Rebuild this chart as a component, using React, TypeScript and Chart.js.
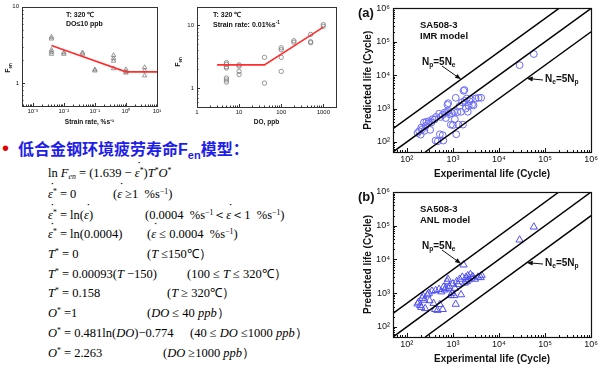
import React, { useEffect, useRef } from "react";
import { Chart, registerables } from "chart.js";
Chart.register(...registerables);

const SANS = '"Liberation Sans", Arial, Helvetica, sans-serif';
const SERIF = '"Liberation Serif", "Times New Roman", serif';

// ---------- Fen vs strain rate (T = 320 C, DO <= 10 ppb) ----------
const strainRate = [0.004, 0.004, 0.004, 0.004, 0.004, 0.01, 0.01, 0.04, 0.04, 0.1, 0.1, 0.4, 0.4, 0.4, 0.4, 1, 1, 1, 4, 4, 4];
const fenStrain = [4.0, 3.8, 2.7, 2.55, 2.4, 2.5, 2.4, 2.5, 2.4, 1.5, 1.45, 2.3, 2.1, 1.95, 1.55, 1.5, 1.4, 1.36, 1.6, 1.45, 1.25];
const strainModelX = [0.004, 1, 10];
const strainModelY = [3.1, 1.4, 1.4];
const strainMajors = [0.001, 0.01, 0.1, 1, 10];
const strainLabels = ["10\u207B\u00B3", "10\u207B\u00B2", "10\u207B\u00B9", "10\u2070", "10\u00B9"];

// ---------- Fen vs DO (T = 320 C, strain rate 0.01 %/s) ----------
const doLevel = [5, 5, 5, 5, 5, 5, 5, 10, 10, 10, 10, 40, 40, 100, 100, 100, 100, 200, 200, 500, 500, 500, 1000, 1000];
const fenDO = [2.55, 2.4, 2.2, 2.1, 1.45, 1.35, 1.25, 2.35, 2.25, 1.85, 1.65, 3.1, 1.2, 4.4, 4.1, 3.1, 1.85, 5.7, 5.4, 7.2, 5.5, 5.3, 10.3, 9.7];
const doModelX = [3, 40, 1000];
const doModelY = [2.35, 2.35, 9.4];
const doMajors = [1, 10, 100, 1000];
const doLabels = ["1", "10", "100", "1000"];

const fenMajors = [1, 10];
const fenLabels = ["1", "10"];

// ---------- Predicted vs experimental life ----------
const imrExp = [170, 185, 200, 205, 215, 235, 240, 255, 265, 290, 300, 320, 340, 360, 400, 420, 430, 470, 500, 520, 540, 600, 600, 620, 660, 700, 740, 760, 790, 800, 830, 900, 960, 1000, 1060, 1100, 1150, 1180, 1250, 1320, 1400, 1500, 1580, 1650, 1700, 1780, 1800, 1900, 2000, 2100, 2200, 2300, 2450, 2600, 2800, 3100, 3600, 4100, 28000, 57000];
const imrPred = [185, 210, 165, 270, 240, 385, 215, 300, 400, 360, 420, 230, 380, 480, 470, 110, 560, 105, 700, 170, 560, 650, 160, 110, 760, 520, 780, 1300, 1450, 850, 680, 330, 720, 320, 800, 480, 2100, 170, 780, 330, 1200, 800, 1550, 330, 3400, 3600, 1700, 1000, 2000, 800, 1200, 1650, 1900, 1300, 1250, 2000, 2100, 2100, 20000, 43000];

const anlExp = [170, 180, 195, 205, 215, 225, 240, 250, 280, 300, 310, 350, 380, 410, 420, 460, 500, 520, 560, 600, 620, 660, 700, 750, 780, 800, 830, 900, 950, 1000, 1060, 1100, 1150, 1200, 1300, 1400, 1500, 1600, 1700, 1800, 1900, 2000, 2100, 2200, 2400, 2500, 2700, 3000, 3500, 4000, 4200, 28000, 57000];
const anlPred = [480, 540, 430, 380, 700, 820, 620, 350, 900, 1000, 600, 1150, 500, 330, 1200, 310, 1300, 460, 1100, 330, 1500, 1250, 1400, 2200, 2600, 1350, 1600, 850, 1000, 1900, 850, 1400, 470, 2200, 1800, 2600, 900, 3000, 6900, 2000, 2900, 2200, 3300, 2500, 3600, 2800, 3100, 2600, 3000, 2900, 3400, 38000, 92000];

const lifeRange = [50, 1e6];
const lineEqualX = [50, 1e6];
const lineEqualY = [50, 1e6];
const lineUpperX = [50, 2e5];
const lineUpperY = [250, 1e6];
const lineLowerX = [250, 1e6];
const lineLowerY = [50, 2e5];
const lifeMajors = [100, 1000, 10000, 100000, 1000000];
const lifeLabels = ["10\u00B2", "10\u00B3", "10\u2074", "10\u2075", "10\u2076"];

// ---------- helpers ----------
type Seg = { t: string; sub?: boolean; sup?: boolean };
type TextItem = { x: number; y: number; segs: Seg[]; size: number; bold?: boolean; color?: string; rotate?: boolean };
type Arrow = { tx: number; ty: number; hx: number; hy: number };
type Deco = { frame: string; frameWidth: number; major: number; minor: number; tickColor: string; texts: TextItem[]; arrows: Arrow[] };

const isMajor = (v: number) => Math.abs(Math.log10(v) - Math.round(Math.log10(v))) < 1e-6;

function tickValues(min: number, max: number): number[] {
  const out: number[] = [];
  const lo = Math.floor(Math.log10(min));
  const hi = Math.ceil(Math.log10(max));
  for (let e = lo; e <= hi; e++) {
    for (let m = 1; m < 10; m++) {
      const v = m * Math.pow(10, e);
      if (v >= min * 0.999 && v <= max * 1.001) out.push(v);
    }
  }
  return out;
}

function labelFor(v: number, majors: number[], labels: string[]): string {
  for (let i = 0; i < majors.length; i++) {
    if (Math.abs(Math.log10(v) - Math.log10(majors[i])) < 1e-6) return labels[i];
  }
  return "";
}

function axis(o: {
  min: number; max: number; majors: number[]; labels: string[]; size: number; pad: number; fit: number; horiz: boolean;
  title?: string; titleSize?: number; titlePad?: any;
}): any {
  return {
    type: "logarithmic",
    min: o.min,
    max: o.max,
    afterBuildTicks: (s: any) => {
      s.ticks = tickValues(o.min, o.max).map((v) => ({ value: v }));
    },
    afterFit: (s: any) => {
      if (o.horiz) s.height = o.fit;
      else s.width = o.fit;
    },
    grid: { display: false, drawTicks: false },
    border: { display: false },
    ticks: {
      autoSkip: false,
      maxRotation: 0,
      minRotation: 0,
      padding: o.pad,
      color: "#111",
      font: { family: SANS, size: o.size },
      callback: (v: any) => labelFor(Number(v), o.majors, o.labels),
    },
    title: o.title
      ? { display: true, text: o.title, color: "#111", font: { family: SANS, size: o.titleSize, weight: "bold" }, padding: o.titlePad }
      : { display: false },
  };
}

function drawRich(ctx: CanvasRenderingContext2D, it: TextItem) {
  const w = it.bold ? "bold " : "";
  const fontOf = (s: Seg) => `${w}${s.sub || s.sup ? it.size * 0.66 : it.size}px ${SANS}`;
  let total = 0;
  for (const s of it.segs) {
    ctx.font = fontOf(s);
    total += ctx.measureText(s.t).width;
  }
  ctx.save();
  ctx.translate(it.x, it.y);
  if (it.rotate) ctx.rotate(-Math.PI / 2);
  let cx = it.rotate ? -total / 2 : 0;
  ctx.fillStyle = it.color || "#111";
  ctx.textBaseline = "middle";
  ctx.textAlign = "left";
  for (const s of it.segs) {
    ctx.font = fontOf(s);
    const dy = s.sub ? it.size * 0.32 : s.sup ? -it.size * 0.35 : 0;
    ctx.fillText(s.t, cx, dy);
    cx += ctx.measureText(s.t).width;
  }
  ctx.restore();
}

function deco(cfg: Deco): any {
  return {
    id: "deco",
    afterDraw(chart: any) {
      const { ctx, chartArea: a } = chart;
      const xs = chart.scales.x;
      const ys = chart.scales.y;
      ctx.save();
      ctx.strokeStyle = cfg.tickColor;
      ctx.lineWidth = 1;
      ctx.beginPath();
      for (const t of xs.ticks) {
        const px = Math.round(xs.getPixelForValue(t.value)) + 0.5;
        const len = isMajor(t.value) ? cfg.major : cfg.minor;
        ctx.moveTo(px, a.bottom);
        ctx.lineTo(px, a.bottom - len);
      }
      for (const t of ys.ticks) {
        const py = Math.round(ys.getPixelForValue(t.value)) + 0.5;
        const len = isMajor(t.value) ? cfg.major : cfg.minor;
        ctx.moveTo(a.left, py);
        ctx.lineTo(a.left + len, py);
      }
      ctx.stroke();
      ctx.strokeStyle = cfg.frame;
      ctx.lineWidth = cfg.frameWidth;
      ctx.strokeRect(Math.round(a.left) + 0.5, Math.round(a.top) + 0.5, Math.round(a.right - a.left), Math.round(a.bottom - a.top));
      for (const ar of cfg.arrows) {
        const hx = xs.getPixelForValue(ar.hx);
        const hy = ys.getPixelForValue(ar.hy);
        const ang = Math.atan2(hy - ar.ty, hx - ar.tx);
        const L = 6;
        const W = 2.4;
        ctx.strokeStyle = "#111";
        ctx.fillStyle = "#111";
        ctx.lineWidth = 1;
        ctx.beginPath();
        ctx.moveTo(ar.tx, ar.ty);
        ctx.lineTo(hx - Math.cos(ang) * L * 0.8, hy - Math.sin(ang) * L * 0.8);
        ctx.stroke();
        ctx.beginPath();
        ctx.moveTo(hx, hy);
        ctx.lineTo(hx - Math.cos(ang) * L - Math.sin(ang) * W, hy - Math.sin(ang) * L + Math.cos(ang) * W);
        ctx.lineTo(hx - Math.cos(ang) * L + Math.sin(ang) * W, hy - Math.sin(ang) * L - Math.cos(ang) * W);
        ctx.closePath();
        ctx.fill();
      }
      for (const it of cfg.texts) drawRich(ctx, it);
      ctx.restore();
    },
  };
}

const pts = (xs: number[], ys: number[]) => xs.map((x, i) => ({ x, y: ys[i] }));

const baseOptions = (padding: any, scales: any) => ({
  responsive: false,
  animation: false,
  devicePixelRatio: 1,
  events: [],
  layout: { padding },
  plugins: { legend: { display: false }, tooltip: { enabled: false } },
  scales,
});

function strainChart(): any {
  return {
    type: "scatter",
    data: {
      datasets: [
        { data: pts(strainModelX, strainModelY), showLine: true, pointRadius: 0, borderColor: "#ff2d2d", borderWidth: 1.6 },
        { data: pts(strainRate, fenStrain), pointStyle: "triangle", pointRadius: 2.6, pointBorderColor: "#7c7c7c", pointBackgroundColor: "rgba(0,0,0,0)", pointBorderWidth: 0.8 },
      ],
    },
    options: baseOptions({ top: 3, right: 9, left: 0, bottom: 0 }, {
      x: axis({ min: 4.5e-4, max: 10, majors: strainMajors, labels: strainLabels, size: 6, pad: 2, fit: 20, horiz: true, title: "Strain rate, %s\u207B\u00B9", titleSize: 6.5, titlePad: { top: 0, bottom: 0 } }),
      y: axis({ min: 0.5, max: 10, majors: fenMajors, labels: fenLabels, size: 6, pad: 3, fit: 22, horiz: false }),
    }),
    plugins: [deco({
      frame: "#333", frameWidth: 1, major: 3, minor: 1.5, tickColor: "#333", arrows: [],
      texts: [
        { x: 66, y: 15, segs: [{ t: "T: 320 \u2103" }], size: 7, bold: true },
        { x: 66, y: 24, segs: [{ t: "DO\u226410 ppb" }], size: 7, bold: true },
        { x: 8, y: 68, segs: [{ t: "F" }, { t: "en", sub: true }], size: 7, bold: true, rotate: true },
      ],
    })],
  };
}

function doChart(): any {
  return {
    type: "scatter",
    data: {
      datasets: [
        { data: pts(doModelX, doModelY), showLine: true, pointRadius: 0, borderColor: "#ff2d2d", borderWidth: 1.6 },
        { data: pts(doLevel, fenDO), pointStyle: "circle", pointRadius: 2.2, pointBorderColor: "#7c7c7c", pointBackgroundColor: "rgba(0,0,0,0)", pointBorderWidth: 0.8 },
      ],
    },
    options: baseOptions({ top: 4, right: 14, left: 0, bottom: 0 }, {
      x: axis({ min: 1, max: 2000, majors: doMajors, labels: doLabels, size: 6, pad: 2, fit: 19, horiz: true, title: "DO, ppb", titleSize: 6.5, titlePad: { top: 0, bottom: 0 } }),
      y: axis({ min: 0.5, max: 20, majors: fenMajors, labels: fenLabels, size: 6, pad: 3, fit: 27, horiz: false }),
    }),
    plugins: [deco({
      frame: "#333", frameWidth: 1, major: 3, minor: 1.5, tickColor: "#333", arrows: [],
      texts: [
        { x: 43, y: 15, segs: [{ t: "T: 320 \u2103" }], size: 7, bold: true },
        { x: 43, y: 25, segs: [{ t: "Strain rate: 0.01%s" }, { t: "-1", sup: true }], size: 7, bold: true },
        { x: 8, y: 62, segs: [{ t: "F" }, { t: "en", sub: true }], size: 7, bold: true, rotate: true },
      ],
    })],
  };
}

function lifeChart(exp: number[], pred: number[], style: string, color: string, radius: number, label: string, model: string, padTop: number, yOff: number): any {
  return {
    type: "scatter",
    data: {
      datasets: [
        { data: pts(lineEqualX, lineEqualY), showLine: true, pointRadius: 0, borderColor: "#000", borderWidth: 1.5 },
        { data: pts(lineUpperX, lineUpperY), showLine: true, pointRadius: 0, borderColor: "#000", borderWidth: 1.5 },
        { data: pts(lineLowerX, lineLowerY), showLine: true, pointRadius: 0, borderColor: "#000", borderWidth: 1.5 },
        { data: pts(exp, pred), pointStyle: style, pointRadius: radius, pointBorderColor: color, pointBackgroundColor: "rgba(0,0,0,0)", pointBorderWidth: 1 },
      ],
    },
    options: baseOptions({ top: padTop, right: 8, left: 0, bottom: 0 }, {
      x: axis({ min: lifeRange[0], max: lifeRange[1], majors: lifeMajors, labels: lifeLabels, size: 9, pad: 2, fit: 30, horiz: true, title: "Experimental life (Cycle)", titleSize: 10, titlePad: { top: 0, bottom: 2 } }),
      y: axis({ min: lifeRange[0], max: lifeRange[1], majors: lifeMajors, labels: lifeLabels, size: 9, pad: 3, fit: 38, horiz: false, title: "Predicted life (Cycle)", titleSize: 10, titlePad: { top: 7, bottom: 0 } }),
    }),
    plugins: [deco({
      frame: "#111", frameWidth: 1.2, major: 4, minor: 2, tickColor: "#111",
      arrows: [
        { tx: 87, ty: yOff + 53, hx: 1500, hy: 7500 },
        { tx: 188, ty: yOff + 67, hx: 40000, hy: 8000 },
      ],
      texts: [
        { x: 3, y: yOff, segs: [{ t: label }], size: 13, bold: true },
        { x: 65, y: yOff + 12, segs: [{ t: "SA508-3" }], size: 9.5, bold: true },
        { x: 65, y: yOff + 23, segs: [{ t: model }], size: 9.5, bold: true },
        { x: 67, y: yOff + 49, segs: [{ t: "N" }, { t: "p", sub: true }, { t: "=5N" }, { t: "e", sub: true }], size: 10, bold: true },
        { x: 190, y: yOff + 66, segs: [{ t: "N" }, { t: "e", sub: true }, { t: "=5N" }, { t: "p", sub: true }], size: 10, bold: true },
      ],
    })],
  };
}

function ChartBox(props: { left: number; top: number; width: number; height: number; make: () => any }) {
  const ref = useRef<HTMLCanvasElement>(null);
  useEffect(() => {
    const chart = new Chart(ref.current as HTMLCanvasElement, props.make());
    return () => chart.destroy();
  }, []);
  return (
    <canvas
      ref={ref}
      width={props.width}
      height={props.height}
      style={{ position: "absolute", left: props.left, top: props.top, width: props.width, height: props.height }}
    />
  );
}

const supS: React.CSSProperties = { fontSize: "0.62em", verticalAlign: "0.55em", lineHeight: 0 };
const subS: React.CSSProperties = { fontSize: "0.62em", verticalAlign: "-0.3em", lineHeight: 0 };

// epsilon with a dot above (strain rate symbol)
function Eps() {
  return (
    <span style={{ position: "relative", fontStyle: "italic" }}>
      {"\u03B5"}
      <span style={{ position: "absolute", left: "0.18em", top: "-0.62em", fontStyle: "normal" }}>{"\u02D9"}</span>
    </span>
  );
}

function Line(props: { y: number; x: number; children: any }) {
  return (
    <div style={{ position: "absolute", left: props.x, top: props.y - 8, fontFamily: SERIF, fontSize: 12.5, lineHeight: "16px", whiteSpace: "pre", color: "#000" }}>
      {props.children}
    </div>
  );
}

const St = () => <sup style={supS}>*</sup>;
const Inv = () => <sup style={supS}>{"\u22121"}</sup>;

export default function App() {
  return (
    <div style={{ position: "fixed", left: 0, top: 0, width: 600, height: 367, background: "#fff", overflow: "hidden" }}>
      <ChartBox left={0} top={0} width={166} height={126} make={strainChart} />
      <ChartBox left={170} top={0} width={180} height={126} make={doChart} />
      <ChartBox left={355} top={0} width={245} height={182} make={() => lifeChart(imrExp, imrPred, "circle", "#6a6af6", 3.4, "(a)", "IMR model", 5, 13)} />
      <ChartBox left={355} top={182} width={245} height={185} make={() => lifeChart(anlExp, anlPred, "triangle", "#5050f2", 4.2, "(b)", "ANL model", 10, 15)} />

      <div style={{ position: "absolute", left: 2, top: 136, fontSize: 20, lineHeight: "24px", color: "#e00000", fontFamily: SANS }}>{"\u2022"}</div>
      <div style={{ position: "absolute", left: 18, top: 137, fontSize: 16, lineHeight: "22px", fontWeight: "bold", color: "#1e1ee6", fontFamily: '"Noto Sans CJK SC", "Liberation Sans", sans-serif', whiteSpace: "pre" }}>
        {"低合金钢环境疲劳寿命"}
        <span style={{ fontFamily: SANS }}>F</span>
        <span style={{ fontFamily: SANS, fontSize: 11, verticalAlign: "-0.35em" }}>en</span>
        {"模型："}
      </div>

      <Line x={48} y={173}>ln <i>F</i><sub style={subS}><i>en</i></sub> = (1.639 − <Eps /><St />)<i>T</i><St /><i>O</i><St /></Line>
      <Line x={48} y={194}><Eps /><St /> = 0</Line>
      <Line x={113} y={194}>(<Eps /> ≥1  %s<Inv />)</Line>
      <Line x={48} y={215}><Eps /><St /> = ln(<Eps />)</Line>
      <Line x={145} y={215}>(0.0004  %s<Inv />＜<Eps />＜1  %s<Inv />)</Line>
      <Line x={48} y={234}><Eps /><St /> = ln(0.0004)</Line>
      <Line x={147} y={234}>(<Eps /> ≤ 0.0004  %s<Inv />)</Line>
      <Line x={48} y={254}><i>T</i><St /> = 0</Line>
      <Line x={147} y={254}>(<i>T</i> ≤150℃）</Line>
      <Line x={48} y={274}><i>T</i><St /> = 0.00093(<i>T</i> −150)</Line>
      <Line x={187} y={274}>(100 ≤ <i>T</i> ≤ 320℃）</Line>
      <Line x={48} y={293}><i>T</i><St /> = 0.158</Line>
      <Line x={167} y={293}>(<i>T</i> ≥ 320℃）</Line>
      <Line x={48} y={313}><i>O</i><St /> =1</Line>
      <Line x={147} y={313}>(<i>DO</i> ≤ 40 <i>ppb</i>）</Line>
      <Line x={48} y={333}><i>O</i><St /> = 0.481ln(<i>DO</i>)−0.774</Line>
      <Line x={190} y={333}>(40 ≤ <i>DO</i> ≤1000 <i>ppb</i>）</Line>
      <Line x={48} y={353}><i>O</i><St /> = 2.263</Line>
      <Line x={163} y={353}>(<i>DO</i> ≥1000 <i>ppb</i>）</Line>
    </div>
  );
}
